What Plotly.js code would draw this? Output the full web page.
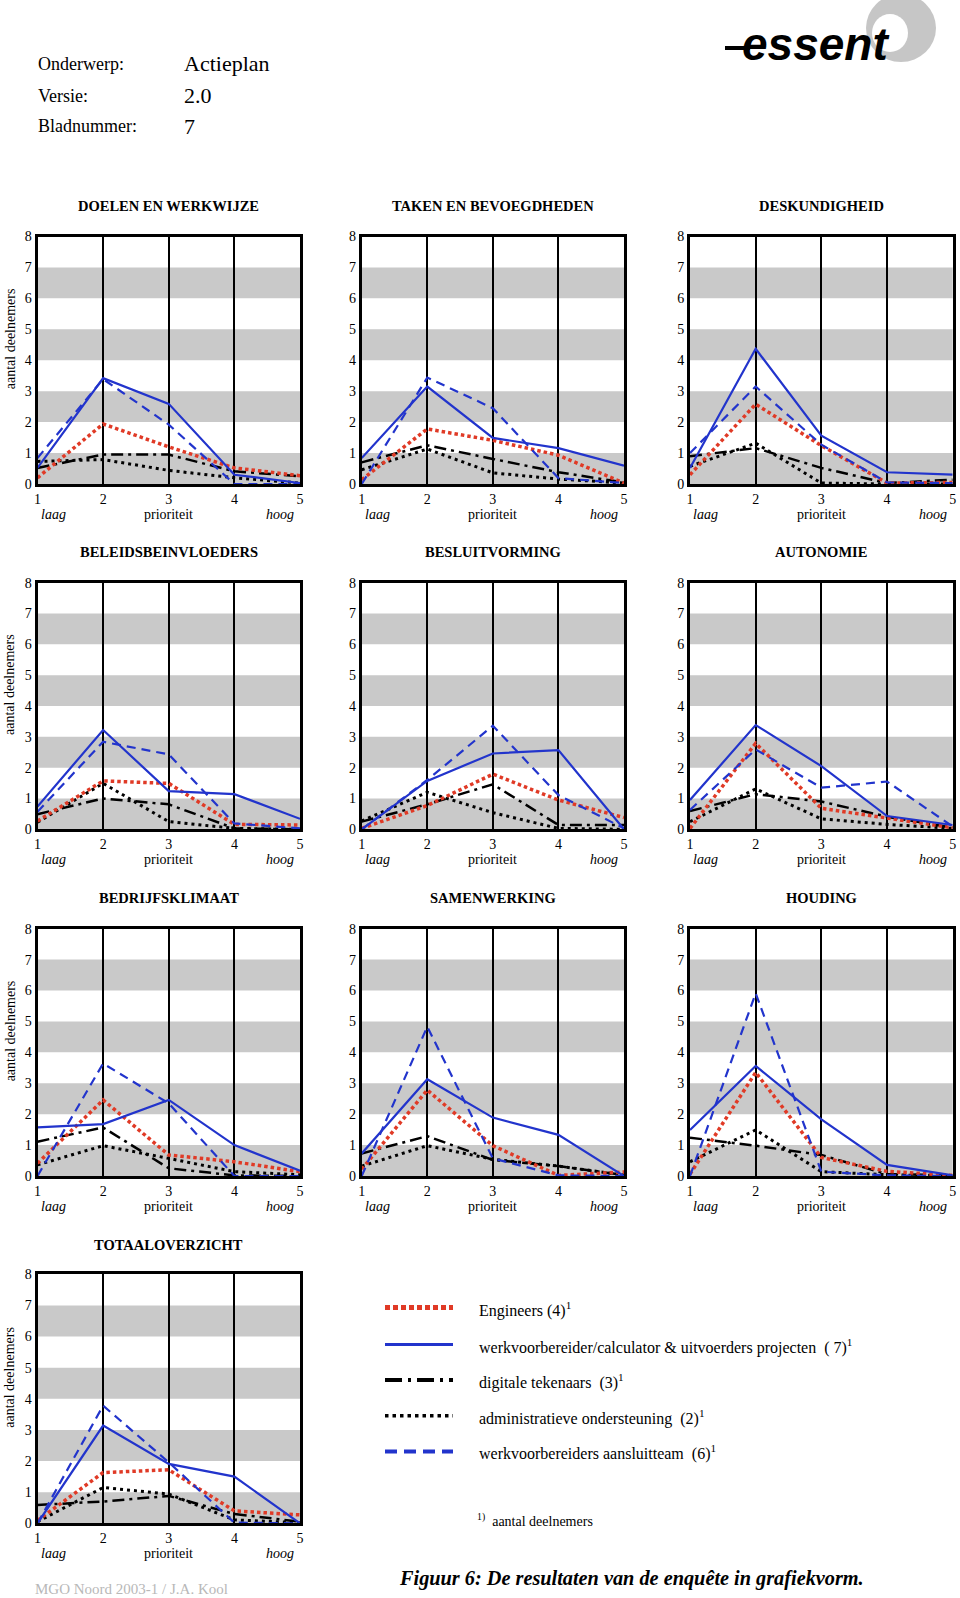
<!DOCTYPE html>
<html><head><meta charset="utf-8">
<script src="https://cdn.plot.ly/plotly-3.0.1.min.js"></script>
<style>html,body{margin:0;padding:0;background:#fff}#chart{width:960px;height:1598px}</style>
</head><body><div id="chart"></div>
<script>
// ---------- data ----------
const prioriteit = [1, 2, 3, 4, 5];
const yTicks = [0, 1, 2, 3, 4, 5, 6, 7, 8];
const panelTitles = ['DOELEN EN WERKWIJZE', 'TAKEN EN BEVOEGDHEDEN', 'DESKUNDIGHEID',
  'BELEIDSBEINVLOEDERS', 'BESLUITVORMING', 'AUTONOMIE',
  'BEDRIJFSKLIMAAT', 'SAMENWERKING', 'HOUDING', 'TOTAALOVERZICHT'];
const seriesNames = ['Engineers (4)', 'werkvoorbereider/calculator & uitvoerders projecten (7)',
  'digitale tekenaars (3)', 'administratieve ondersteuning (2)', 'werkvoorbereiders aansluitteam (6)'];

// one row per panel, values at prioriteit 1..5
const engineers = [
  [0.20, 1.94, 1.20, 0.52, 0.27],
  [0.14, 1.78, 1.41, 0.93, 0.03],
  [0.30, 2.58, 1.24, 0.03, 0.05],
  [0.27, 1.57, 1.49, 0.16, 0.14],
  [0.03, 0.77, 1.79, 0.95, 0.38],
  [0.03, 2.79, 0.68, 0.36, 0.05],
  [0.41, 2.46, 0.68, 0.46, 0.14],
  [0.22, 2.78, 0.98, 0.02, 0.13],
  [0.06, 3.35, 0.60, 0.15, 0.02],
  [0.09, 1.63, 1.72, 0.40, 0.27]
];
const werkvoorbereiderCalc = [
  [0.52, 3.42, 2.59, 0.30, 0.03],
  [0.84, 3.15, 1.49, 1.16, 0.59],
  [0.52, 4.37, 1.56, 0.38, 0.30],
  [0.74, 3.22, 1.24, 1.14, 0.34],
  [0.00, 1.57, 2.46, 2.57, 0.00],
  [0.95, 3.38, 2.05, 0.43, 0.14],
  [1.57, 1.68, 2.46, 1.00, 0.17],
  [0.73, 3.13, 1.89, 1.33, 0.00],
  [1.49, 3.56, 1.83, 0.36, 0.02],
  [0.00, 3.14, 1.91, 1.50, 0.00]
];
const digitaleTekenaars = [
  [0.52, 0.95, 0.95, 0.41, 0.25],
  [0.70, 1.25, 0.81, 0.38, 0.05],
  [0.90, 1.16, 0.52, 0.03, 0.14],
  [0.49, 1.00, 0.81, 0.03, 0.00],
  [0.25, 0.81, 1.46, 0.14, 0.14],
  [0.59, 1.14, 0.90, 0.41, 0.05],
  [1.11, 1.57, 0.25, 0.02, 0.00],
  [0.73, 1.29, 0.52, 0.32, 0.03],
  [1.24, 0.98, 0.68, 0.06, 0.02],
  [0.59, 0.70, 0.88, 0.30, 0.05]
];
const administratief = [
  [0.73, 0.79, 0.44, 0.20, 0.03],
  [0.46, 1.13, 0.36, 0.16, 0.03],
  [0.57, 1.32, 0.03, 0.00, 0.00],
  [0.23, 1.49, 0.25, 0.03, 0.00],
  [0.27, 1.20, 0.54, 0.03, 0.00],
  [0.25, 1.31, 0.34, 0.16, 0.03],
  [0.36, 0.98, 0.57, 0.14, 0.04],
  [0.32, 0.98, 0.54, 0.32, 0.03],
  [0.46, 1.49, 0.14, 0.04, 0.00],
  [0.05, 1.15, 0.94, 0.11, 0.02]
];
const aansluitteam = [
  [0.84, 3.39, 1.92, 0.00, 0.00],
  [0.00, 3.44, 2.45, 0.19, 0.03],
  [1.00, 3.15, 1.27, 0.05, 0.03],
  [0.57, 2.84, 2.43, 0.19, 0.03],
  [0.00, 1.60, 3.36, 1.11, 0.03],
  [0.63, 2.59, 1.35, 1.55, 0.09],
  [0.00, 3.64, 2.35, 0.00, 0.00],
  [0.00, 4.83, 0.57, 0.02, 0.00],
  [0.00, 5.91, 0.14, 0.02, 0.00],
  [0.00, 3.78, 1.96, 0.02, 0.00]
];

// ---------- styling ----------
const W = 960, H = 1598;
const px = v => v / W;
const py = v => 1 - v / H;
const SERIF = 'Liberation Serif, Times New Roman, serif';
const RED = '#e03a26', BLUE = '#2234cc', BLACK = '#000';

const seriesData = [engineers, werkvoorbereiderCalc, digitaleTekenaars, administratief, aansluitteam];
const seriesLine = [
  {color: RED, width: 3.5, dash: '3.5px,3px'},
  {color: BLUE, width: 2.2, dash: 'solid'},
  {color: BLACK, width: 2.5, dash: '12px,5px,3px,5px'},
  {color: BLACK, width: 3, dash: '3px,4px'},
  {color: BLUE, width: 2.2, dash: '9px,6px'}
];
const legendLine = [
  {color: RED, width: 5, dash: '5px,3px'},
  {color: BLUE, width: 3, dash: 'solid'},
  {color: BLACK, width: 4, dash: '17px,6px,3px,6px'},
  {color: BLACK, width: 3.5, dash: '3.5px,4px'},
  {color: BLUE, width: 4, dash: '12px,7px'}
];
const legendText = [
  'Engineers (4)<sup>1</sup>',
  'werkvoorbereider/calculator &amp; uitvoerders projecten  ( 7)<sup>1</sup>',
  'digitale tekenaars  (3)<sup>1</sup>',
  'administratieve ondersteuning  (2)<sup>1</sup>',
  'werkvoorbereiders aansluitteam  (6)<sup>1</sup>'
];

const colPx = [[37.5, 300], [361.7, 624], [690, 952.7]];
const rowPx = [[236.5, 484], [582.7, 829.3], [928.7, 1176], [1274.3, 1523.3]];
const titleY = [205.7, 551.7, 898, 1245];

const traces = [];
const layout = {
  width: W, height: H, margin: {l: 0, r: 0, t: 0, b: 0},
  paper_bgcolor: '#fff', plot_bgcolor: '#fff', showlegend: false,
  font: {family: SERIF, color: '#000'},
  shapes: [], annotations: []
};

for (let i = 0; i < panelTitles.length; i++) {
  const row = Math.floor(i / 3), col = i % 3;
  const sfx = i === 0 ? '' : String(i + 1);
  const xa = 'x' + sfx, ya = 'y' + sfx;
  const cp = colPx[col], rp = rowPx[row];
  layout['xaxis' + sfx] = {
    domain: [px(cp[0]), px(cp[1])], anchor: ya, range: [1, 5],
    tickvals: prioriteit, ticktext: prioriteit.map(String), ticks: '',
    showgrid: true, gridcolor: '#000', gridwidth: 2, zeroline: false,
    showline: true, mirror: true, linecolor: '#000', linewidth: 3,
    tickfont: {family: SERIF, size: 14, color: '#000'}, fixedrange: true
  };
  layout['yaxis' + sfx] = {
    domain: [py(rp[1]), py(rp[0])], anchor: xa, range: [0, 8],
    tickvals: yTicks, ticks: '', showgrid: false, zeroline: false,
    showline: true, mirror: true, linecolor: '#000', linewidth: 3,
    tickfont: {family: SERIF, size: 14, color: '#000'}, fixedrange: true
  };
  // grey bands
  [0, 2, 4, 6].forEach(k => layout.shapes.push({
    type: 'rect', xref: xa + ' domain', yref: ya, x0: 0, x1: 1, y0: k, y1: k + 1,
    fillcolor: '#c9c9c9', line: {width: 0}, layer: 'below'
  }));
  // traces (drawing order: black first, blues on top)
  [3, 2, 0, 4, 1].forEach(s => traces.push({
    type: 'scatter', mode: 'lines', x: prioriteit, y: seriesData[s][i],
    xaxis: xa, yaxis: ya, name: seriesNames[s], line: seriesLine[s], hoverinfo: 'skip'
  }));
  // panel title
  layout.annotations.push({
    text: '<b>' + panelTitles[i] + '</b>', xref: 'paper', yref: 'paper',
    x: px((cp[0] + cp[1]) / 2), y: py(titleY[row]), xanchor: 'center', yanchor: 'middle',
    showarrow: false, font: {family: SERIF, size: 14.5, color: '#000'}
  });
  // x-axis captions
  const capY = py(rp[1] + 30);
  [['<i>laag</i>', 1.24], ['prioriteit', 3], ['<i>hoog</i>', 4.7]].forEach(([t, xv]) =>
    layout.annotations.push({
      text: t, xref: xa, yref: 'paper', x: xv, y: capY, xanchor: 'center', yanchor: 'middle',
      showarrow: false, font: {family: SERIF, size: 14, color: '#000'}
    }));
  if (col === 0) {
    layout.annotations.push({
      text: 'aantal deelnemers', xref: 'paper', yref: 'paper', x: px(10),
      y: py((rp[0] + rp[1]) / 2 - 21), xanchor: 'center', yanchor: 'middle', textangle: -90,
      showarrow: false, font: {family: SERIF, size: 14, color: '#000'}
    });
  }
}

// header
const hdr = [['Onderwerp:', 'Actieplan', 64], ['Versie:', '2.0', 95.8], ['Bladnummer:', '7', 126.4]];
hdr.forEach(([a, b, y]) => {
  layout.annotations.push({text: a, xref: 'paper', yref: 'paper', x: px(35.5), y: py(y),
    xanchor: 'left', yanchor: 'middle', showarrow: false, font: {family: SERIF, size: 18, color: '#000'}});
  layout.annotations.push({text: b, xref: 'paper', yref: 'paper', x: px(181.5), y: py(y),
    xanchor: 'left', yanchor: 'middle', showarrow: false, font: {family: SERIF, size: 22, color: '#000'}});
});

// logo
layout.shapes.push({type: 'circle', xref: 'paper', yref: 'paper',
  x0: px(866), x1: px(936), y0: py(62), y1: py(-6), fillcolor: '#c6c6c6', line: {width: 0}});
layout.shapes.push({type: 'circle', xref: 'paper', yref: 'paper',
  x0: px(872), x1: px(908), y0: py(52), y1: py(14), fillcolor: '#ffffff', line: {width: 0}});
layout.shapes.push({type: 'line', xref: 'paper', yref: 'paper',
  x0: px(725), x1: px(750), y0: py(48), y1: py(48), line: {color: '#000', width: 4}});
layout.annotations.push({text: '<b><i>essent</i></b>', xref: 'paper', yref: 'paper',
  x: px(740), y: py(44), xanchor: 'left', yanchor: 'middle', showarrow: false,
  font: {family: 'Liberation Sans, Arial, sans-serif', size: 46, color: '#000'}});

// legend
const legY = [1307.6, 1344.5, 1380, 1415.7, 1451.4];
legY.forEach((y, k) => {
  layout.shapes.push({type: 'line', xref: 'paper', yref: 'paper',
    x0: px(385), x1: px(453), y0: py(y), y1: py(y), line: legendLine[k]});
  layout.annotations.push({text: legendText[k], xref: 'paper', yref: 'paper',
    x: px(477), y: py(y + 1.5), xanchor: 'left', yanchor: 'middle', showarrow: false,
    font: {family: SERIF, size: 16, color: '#000'}});
});
layout.annotations.push({text: '<sup>1)</sup>  aantal deelnemers', xref: 'paper', yref: 'paper',
  x: px(475), y: py(1520), xanchor: 'left', yanchor: 'middle', showarrow: false,
  font: {family: SERIF, size: 14, color: '#000'}});
layout.annotations.push({text: '<b><i>Figuur 6: De resultaten van de enquête in grafiekvorm.</i></b>',
  xref: 'paper', yref: 'paper', x: px(397), y: py(1578.5), xanchor: 'left', yanchor: 'middle',
  showarrow: false, font: {family: SERIF, size: 20.3, color: '#000'}});
layout.annotations.push({text: 'MGO Noord 2003-1 / J.A. Kool', xref: 'paper', yref: 'paper',
  x: px(33), y: py(1589), xanchor: 'left', yanchor: 'middle', showarrow: false,
  font: {family: SERIF, size: 15, color: '#b8b8b8'}});

Plotly.newPlot('chart', traces, layout, {staticPlot: true, displayModeBar: false});
</script>
</body></html>
